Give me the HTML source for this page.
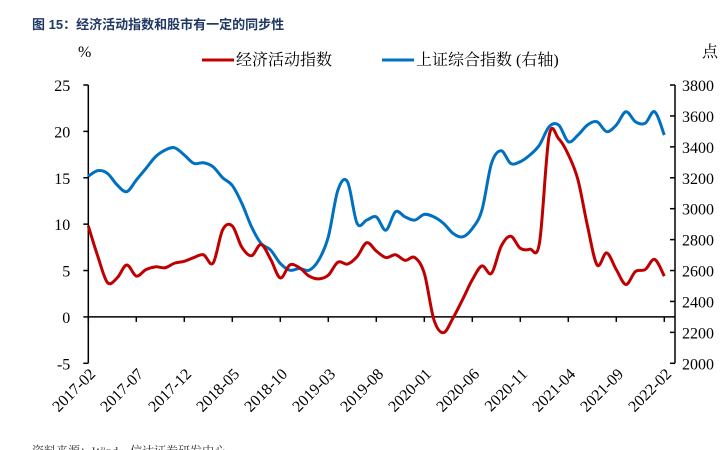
<!DOCTYPE html>
<html><head><meta charset="utf-8">
<style>
body{margin:0;background:#fff;}
svg{display:block;font-family:"Liberation Serif","Noto Serif CJK SC",serif;}
</style></head>
<body>
<svg id="chart" width="725" height="450" viewBox="0 0 725 450" xmlns="http://www.w3.org/2000/svg">
<text x="32" y="29" font-family="'Liberation Sans','Noto Sans CJK SC',sans-serif" font-size="13" font-weight="bold" fill="#1f3864">图 15：经济活动指数和股市有一定的同步性</text>
<text x="78" y="57" font-size="16">%</text>
<text x="702" y="57" font-size="16" font-family="'Liberation Serif','Noto Serif CJK SC',serif">点</text>
<g>
<line x1="202" y1="60" x2="234" y2="60" stroke="#c00000" stroke-width="3"/>
<text x="236" y="65" font-size="16" font-family="'Liberation Serif','Noto Serif CJK SC',serif">经济活动指数</text>
<line x1="382" y1="60" x2="414" y2="60" stroke="#0070c0" stroke-width="3"/>
<text x="416" y="65" font-size="16" font-family="'Liberation Serif','Noto Serif CJK SC',serif">上证综合指数 (右轴)</text>
</g>
<g id="axes"></g>
<g id="series"></g>
<text x="32" y="455" font-size="12" fill="#333" font-family="'Liberation Serif','Noto Serif CJK SC',serif">资料来源：Wind，信达证券研发中心</text>
</svg>
<script>
const xLabels=["2017-02","2017-07","2017-12","2018-05","2018-10","2019-03","2019-08","2020-01","2020-06","2020-11","2021-04","2021-09","2022-02"];
const leftTicks=[25,20,15,10,5,0,-5];
const rightTicks=[3800,3600,3400,3200,3000,2800,2600,2400,2200,2000];
const activity=[9.8,6.5,3.7,4.2,5.6,4.4,5.1,5.4,5.3,5.8,6.0,6.4,6.7,5.8,9.4,9.8,7.5,6.6,7.8,6.2,4.2,5.6,5.3,4.4,4.1,4.5,5.9,5.7,6.5,8.0,7.1,6.4,6.7,6.1,6.4,4.7,-0.3,-1.7,-0.1,1.9,4.0,5.5,4.7,7.6,8.7,7.4,7.3,8.0,19.5,19.2,17.5,14.8,9.8,5.6,6.9,5.1,3.5,4.9,5.1,6.2,4.4];
const shIndex=[3210,3246,3228,3154,3110,3185,3260,3336,3379,3394,3347,3293,3297,3271,3200,3150,3034,2883,2775,2732,2646,2602,2613,2602,2667,2818,3120,3174,2905,2926,2947,2861,2980,2947,2926,2963,2947,2905,2840,2818,2872,2990,3293,3375,3293,3304,3347,3412,3530,3541,3433,3476,3541,3562,3498,3541,3627,3562,3552,3627,3476];
const NS="http://www.w3.org/2000/svg";
const x0=88.3,x1=664.3,yTop=85,yBot=363.3,xAxisR=675;
const xs=i=>x0+(x1-x0)*i/(activity.length-1);
const yl=v=>yTop+(25-v)/30*(yBot-yTop);
const yr=v=>yTop+(3800-v)/1800*(yBot-yTop);
const axes=document.getElementById('axes'),ser=document.getElementById('series');
function mk(tag,attrs,parent){const e=document.createElementNS(NS,tag);for(const k in attrs)e.setAttribute(k,attrs[k]);parent.appendChild(e);return e;}
let la=mk('line',{x1:x0,y1:yTop,x2:x0,y2:yBot,stroke:'#000','stroke-width':1.5},axes);


leftTicks.forEach(v=>{
 mk('line',{x1:x0-5,y1:yl(v),x2:x0,y2:yl(v),stroke:'#000','stroke-width':1.5},axes);
 const t=mk('text',{x:x0-18,y:yl(v)+6,'font-size':16,'text-anchor':'end'},axes);t.textContent=v;
 
 
});
let ra=mk('line',{x1:xAxisR,y1:yTop,x2:xAxisR,y2:yBot,stroke:'#000','stroke-width':1.5},axes);


rightTicks.forEach(v=>{
 mk('line',{x1:xAxisR-5,y1:yr(v),x2:xAxisR,y2:yr(v),stroke:'#000','stroke-width':1.5},axes);
 const t=mk('text',{x:xAxisR+7,y:yr(v)+6,'font-size':16},axes);t.textContent=v;
 
 
});
let xa=mk('line',{x1:x0,y1:yl(0),x2:xAxisR,y2:yl(0),stroke:'#000','stroke-width':1.5},axes);


xLabels.forEach((lab,k)=>{
 const x=xs(k*5);
 mk('line',{x1:x,y1:yl(0),x2:x,y2:yl(0)+5,stroke:'#000','stroke-width':1.5},axes);
 const t=mk('text',{x:0,y:0,'font-size':16,'text-anchor':'end',transform:`translate(${x+8},${375}) rotate(-45)`},axes);t.textContent=lab;
 
 
});
function smooth(pts){let d=`M${pts[0][0]},${pts[0][1]}`;for(let i=0;i<pts.length-1;i++){const p0=pts[Math.max(0,i-1)],p1=pts[i],p2=pts[i+1],p3=pts[Math.min(pts.length-1,i+2)];const c1=[p1[0]+(p2[0]-p0[0])/6,p1[1]+(p2[1]-p0[1])/6],c2=[p2[0]-(p3[0]-p1[0])/6,p2[1]-(p3[1]-p1[1])/6];d+=`C${c1[0]},${c1[1]} ${c2[0]},${c2[1]} ${p2[0]},${p2[1]}`;}return d;}
const pb=mk('path',{d:smooth(shIndex.map((v,i)=>[xs(i),yr(v)])),fill:'none',stroke:'#0070c0','stroke-width':3,'stroke-linejoin':'round'},ser);


const pr=mk('path',{d:smooth(activity.map((v,i)=>[xs(i),yl(v)])),fill:'none',stroke:'#c00000','stroke-width':3,'stroke-linejoin':'round'},ser);


</script>
</body></html>
